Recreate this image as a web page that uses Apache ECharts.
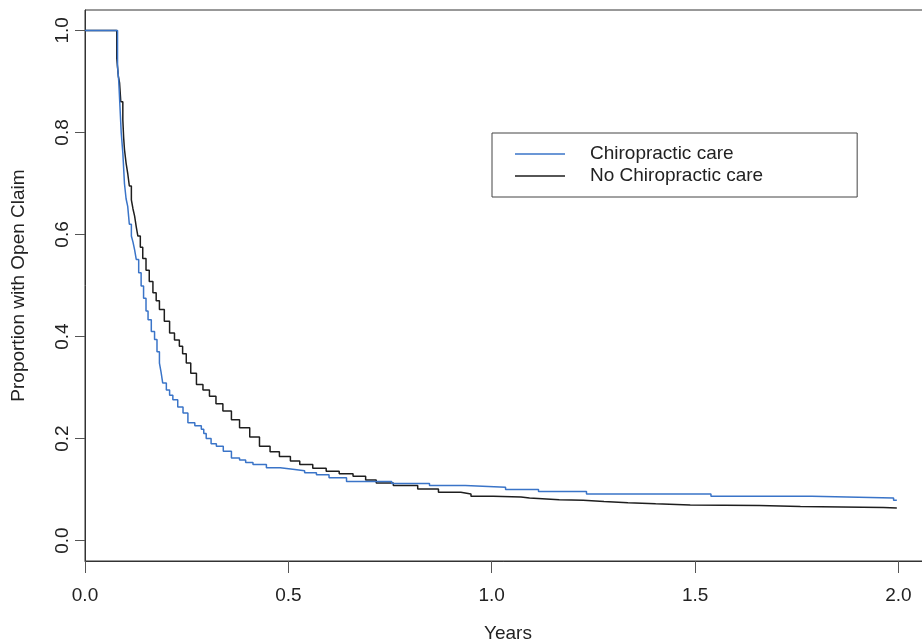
<!DOCTYPE html>
<html>
<head>
<meta charset="utf-8">
<script src="https://cdn.jsdelivr.net/npm/echarts@6/dist/echarts.min.js"></script>
<style>
html,body{margin:0;padding:0;background:#fff;}
#chart{width:922px;height:643px;}
</style>
</head>
<body>
<div id="chart"></div>
<script>
// ---- data ----
var seriesNames = ['Chiropractic care', 'No Chiropractic care'];
var xTicks = [0, 0.5, 1.0, 1.5, 2.0];
var yTicks = [0, 0.2, 0.4, 0.6, 0.8, 1.0];

var chiroTime = [0, 0.08, 0.083, 0.086, 0.089, 0.091, 0.093, 0.095, 0.097, 0.101, 0.105, 0.109, 0.114, 0.118, 0.122, 0.126, 0.132, 0.138, 0.144, 0.150, 0.155, 0.163, 0.171, 0.177, 0.183, 0.187, 0.191, 0.200, 0.208, 0.216, 0.228, 0.241, 0.253, 0.270, 0.286, 0.292, 0.298, 0.310, 0.323, 0.340, 0.360, 0.380, 0.395, 0.413, 0.446, 0.480, 0.511, 0.540, 0.569, 0.600, 0.643, 0.754, 0.847, 0.935, 1.034, 1.115, 1.233, 1.539, 1.787, 1.988, 1.996];
var chiroSurv = [1.0, 0.93, 0.90, 0.85, 0.80, 0.78, 0.76, 0.73, 0.70, 0.67, 0.655, 0.62, 0.597, 0.585, 0.57, 0.551, 0.525, 0.499, 0.475, 0.45, 0.433, 0.41, 0.394, 0.37, 0.348, 0.33, 0.309, 0.295, 0.285, 0.276, 0.262, 0.25, 0.231, 0.225, 0.218, 0.21, 0.20, 0.19, 0.185, 0.175, 0.162, 0.158, 0.153, 0.149, 0.143, 0.14, 0.137, 0.133, 0.129, 0.123, 0.116, 0.112, 0.108, 0.1046, 0.10, 0.096, 0.0915, 0.087, 0.0837, 0.079, 0.079];

var noChiroTime = [0, 0.078, 0.082, 0.085, 0.088, 0.093, 0.095, 0.097, 0.101, 0.105, 0.109, 0.114, 0.118, 0.122, 0.126, 0.130, 0.136, 0.142, 0.150, 0.158, 0.167, 0.175, 0.183, 0.195, 0.208, 0.220, 0.232, 0.240, 0.249, 0.260, 0.274, 0.290, 0.306, 0.322, 0.339, 0.360, 0.380, 0.405, 0.429, 0.455, 0.478, 0.505, 0.528, 0.560, 0.593, 0.625, 0.659, 0.690, 0.716, 0.758, 0.818, 0.869, 0.924, 0.949, 1.004, 1.072, 1.093, 1.166, 1.225, 1.276, 1.335, 1.403, 1.488, 1.658, 1.759, 1.963, 1.996];
var noChiroSurv = [1.0, 0.946, 0.91, 0.897, 0.86, 0.825, 0.79, 0.767, 0.74, 0.72, 0.695, 0.668, 0.65, 0.636, 0.615, 0.597, 0.575, 0.553, 0.53, 0.508, 0.486, 0.47, 0.453, 0.43, 0.407, 0.393, 0.381, 0.366, 0.348, 0.328, 0.306, 0.295, 0.283, 0.268, 0.254, 0.237, 0.221, 0.203, 0.185, 0.174, 0.165, 0.156, 0.149, 0.142, 0.136, 0.131, 0.126, 0.119, 0.113, 0.108, 0.101, 0.0948, 0.0915, 0.087, 0.0856, 0.0837, 0.080, 0.079, 0.0765, 0.074, 0.072, 0.070, 0.069, 0.067, 0.065, 0.064, 0.064];

function pairs(xs, ys) {
  var out = [];
  for (var i = 0; i < xs.length; i++) out.push([xs[i], ys[i]]);
  return out;
}

var FONT = "'Liberation Sans', Arial, sans-serif";
var chart = echarts.init(document.getElementById('chart'), null, {renderer: 'canvas'});
chart.setOption({
  backgroundColor: '#ffffff',
  animation: false,
  grid: {
    left: 85, top: 10, bottom: 82, width: 846,
    outerBoundsMode: 'none', containLabel: false,
    show: true, borderColor: '#333', borderWidth: 1, backgroundColor: 'transparent'
  },
  legend: {
    orient: 'vertical',
    left: 492, top: 133,
    data: seriesNames,
    icon: 'rect',
    borderColor: '#444', borderWidth: 1,
    padding: [10, 94, 10, 23],
    itemWidth: 50, itemHeight: 1.5, itemGap: 0,
    textStyle: {fontFamily: FONT, fontSize: 19, lineHeight: 22, color: '#222', padding: [0, 0, 0, 20]}
  },
  xAxis: {
    type: 'value', min: 0, max: 2.08,
    name: 'Years', nameLocation: 'middle', nameGap: 63,
    nameTextStyle: {fontFamily: FONT, fontSize: 19, color: '#222'},
    splitLine: {show: false},
    axisLine: {show: true, onZero: false, lineStyle: {color: '#333', width: 1}},
    axisTick: {show: true, length: 12, lineStyle: {color: '#555'}, customValues: xTicks},
    axisLabel: {fontFamily: FONT, fontSize: 19, color: '#222', margin: 25, customValues: xTicks,
      formatter: function (v) { return v.toFixed(1); }}
  },
  yAxis: {
    type: 'value', min: -0.04, max: 1.04,
    name: 'Proportion with Open Claim', nameLocation: 'middle', nameGap: 57,
    nameTextStyle: {fontFamily: FONT, fontSize: 19, color: '#222'},
    splitLine: {show: false},
    axisLine: {show: true, onZero: false, lineStyle: {color: '#333', width: 1}},
    axisTick: {show: true, length: 10, lineStyle: {color: '#555'}, customValues: yTicks},
    axisLabel: {fontFamily: FONT, fontSize: 19, color: '#222', margin: 13, rotate: 90, customValues: yTicks,
      formatter: function (v) { return v.toFixed(1); }}
  },
  series: [
    {
      name: seriesNames[1], type: 'line', step: 'end', symbol: 'none',
      lineStyle: {color: '#1e1e1e', width: 1.5}, itemStyle: {color: '#1e1e1e'},
      data: pairs(noChiroTime, noChiroSurv), z: 2
    },
    {
      name: seriesNames[0], type: 'line', step: 'end', symbol: 'none',
      lineStyle: {color: '#3a74c8', width: 1.5}, itemStyle: {color: '#3a74c8'},
      data: pairs(chiroTime, chiroSurv), z: 3
    }
  ]
});
</script>
</body>
</html>
